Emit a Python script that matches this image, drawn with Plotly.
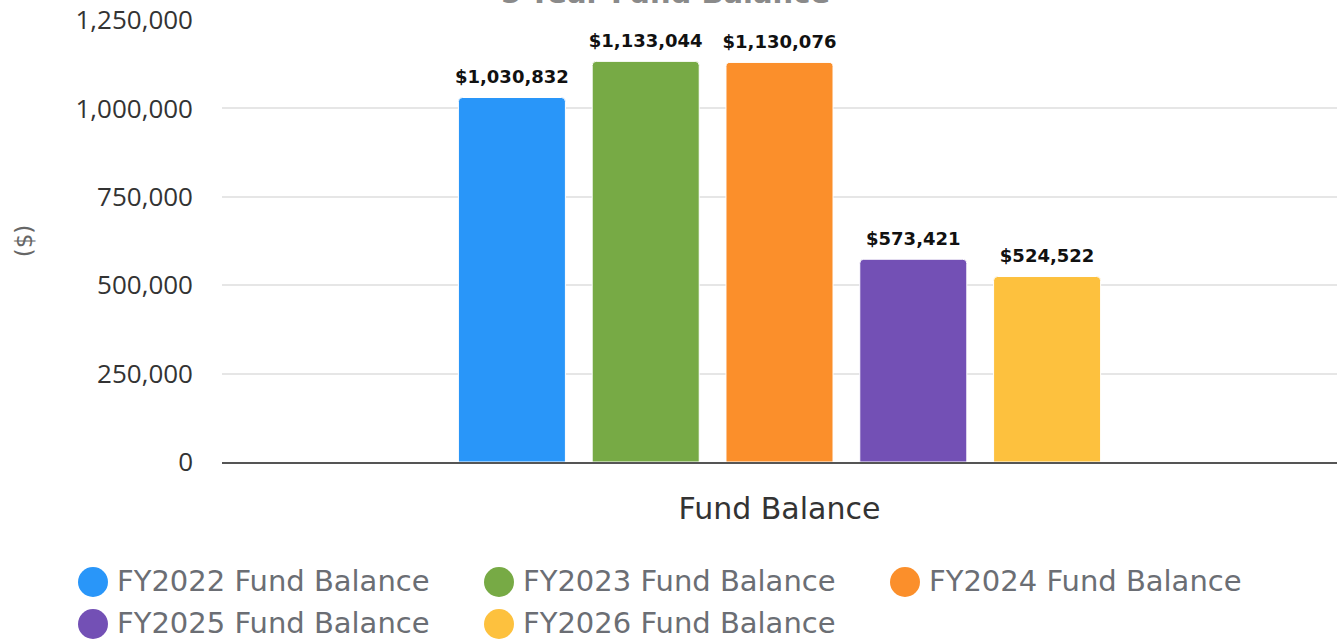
import plotly.graph_objects as go

category = ["Fund Balance"]
series_names = ["FY2022 Fund Balance", "FY2023 Fund Balance", "FY2024 Fund Balance",
                "FY2025 Fund Balance", "FY2026 Fund Balance"]
values = [1030832, 1133044, 1130076, 573421, 524522]
colors = ["#2996f9", "#77aa45", "#fb8f2b", "#7350b5", "#fdc13e"]
y_ticks = [0, 250000, 500000, 750000, 1000000, 1250000]
chart_title = "5-Year Fund Balance"

FONT = "Open Sans"
WIDE = "DejaVu Sans"
W, H = 1340, 641
L, R, T, B = 222, 3, 20, 179
pw, ph = W - L - R, H - T - B

fig = go.Figure()
for name, v, c in zip(series_names, values, colors):
    fig.add_trace(go.Bar(
        x=category, y=[v], name=name,
        marker=dict(color=c, line=dict(color="white", width=1), cornerradius=4),
        showlegend=False,
    ))
# value labels: text-only scatter traces grouped like the bars
for name, v in zip(series_names, values):
    fig.add_trace(go.Scatter(
        x=category, y=[v], name=name, mode="markers+text",
        marker=dict(size=14, opacity=0),
        text=[f"${v:,}"], textposition="top center", cliponaxis=False,
        textfont=dict(family=WIDE, size=18, color="#111111", weight="bold"),
        showlegend=False, hoverinfo="skip",
    ))

# custom legend with large circles
col_px = [93, 499, 905]
row_py = [581, 623]
shapes, annots = [], []
for i, (name, c) in enumerate(zip(series_names, colors)):
    cx = col_px[i % 3]
    cy = row_py[i // 3]
    xp = (cx - L) / pw
    yp = (H - B - cy) / ph
    shapes.append(dict(type="circle", xref="paper", yref="paper",
                       xsizemode="pixel", ysizemode="pixel",
                       xanchor=xp, yanchor=(H - B - cy - 1) / ph, x0=-15, x1=15, y0=-15, y1=15,
                       fillcolor=c, line=dict(width=0)))
    annots.append(dict(text=name, xref="paper", yref="paper",
                       x=(cx + 22 - L) / pw, y=yp, xanchor="left", yanchor="middle",
                       showarrow=False, font=dict(family=WIDE, size=29, color="#6b6e74")))

# title (partially cut off at top, as in the reference)
annots.append(dict(text=f"<b>{chart_title}</b>", xref="paper", yref="paper",
                   x=(665 - L) / pw, y=(H - B + 7) / ph, xanchor="center", yanchor="middle",
                   showarrow=False, font=dict(family=WIDE, size=29, color="#8a8a8a")))

fig.update_layout(
    width=W, height=H,
    margin=dict(l=L, r=R, t=T, b=B),
    plot_bgcolor="white", paper_bgcolor="white",
    barmode="group", bargap=0.4, bargroupgap=0.2,
    scattermode="group", scattergap=0.4,
    shapes=shapes, annotations=annots,
    font=dict(family=FONT),
)
fig.update_yaxes(range=[0, 1250000], tickvals=y_ticks, tickformat=",",
                 automargin=False,
                 showgrid=True, gridcolor="#e6e6e6", gridwidth=2,
                 zeroline=False, showline=False,
                 tickfont=dict(family=FONT, size=26, color="#333333"),
                 ticklabelstandoff=28,
                 title=dict(text="($)", font=dict(family=WIDE, size=23, color="#666666"),
                            standoff=36))
fig.update_xaxes(showline=True, linecolor="#555555", linewidth=2,
                 automargin=False,
                 tickfont=dict(family=WIDE, size=30, color="#333333"),
                 ticklabelstandoff=19)

fig.write_html("out.html", config={"displayModeBar": False},
               post_script="document.body.style.margin='0px';document.body.style.overflow='hidden';")
